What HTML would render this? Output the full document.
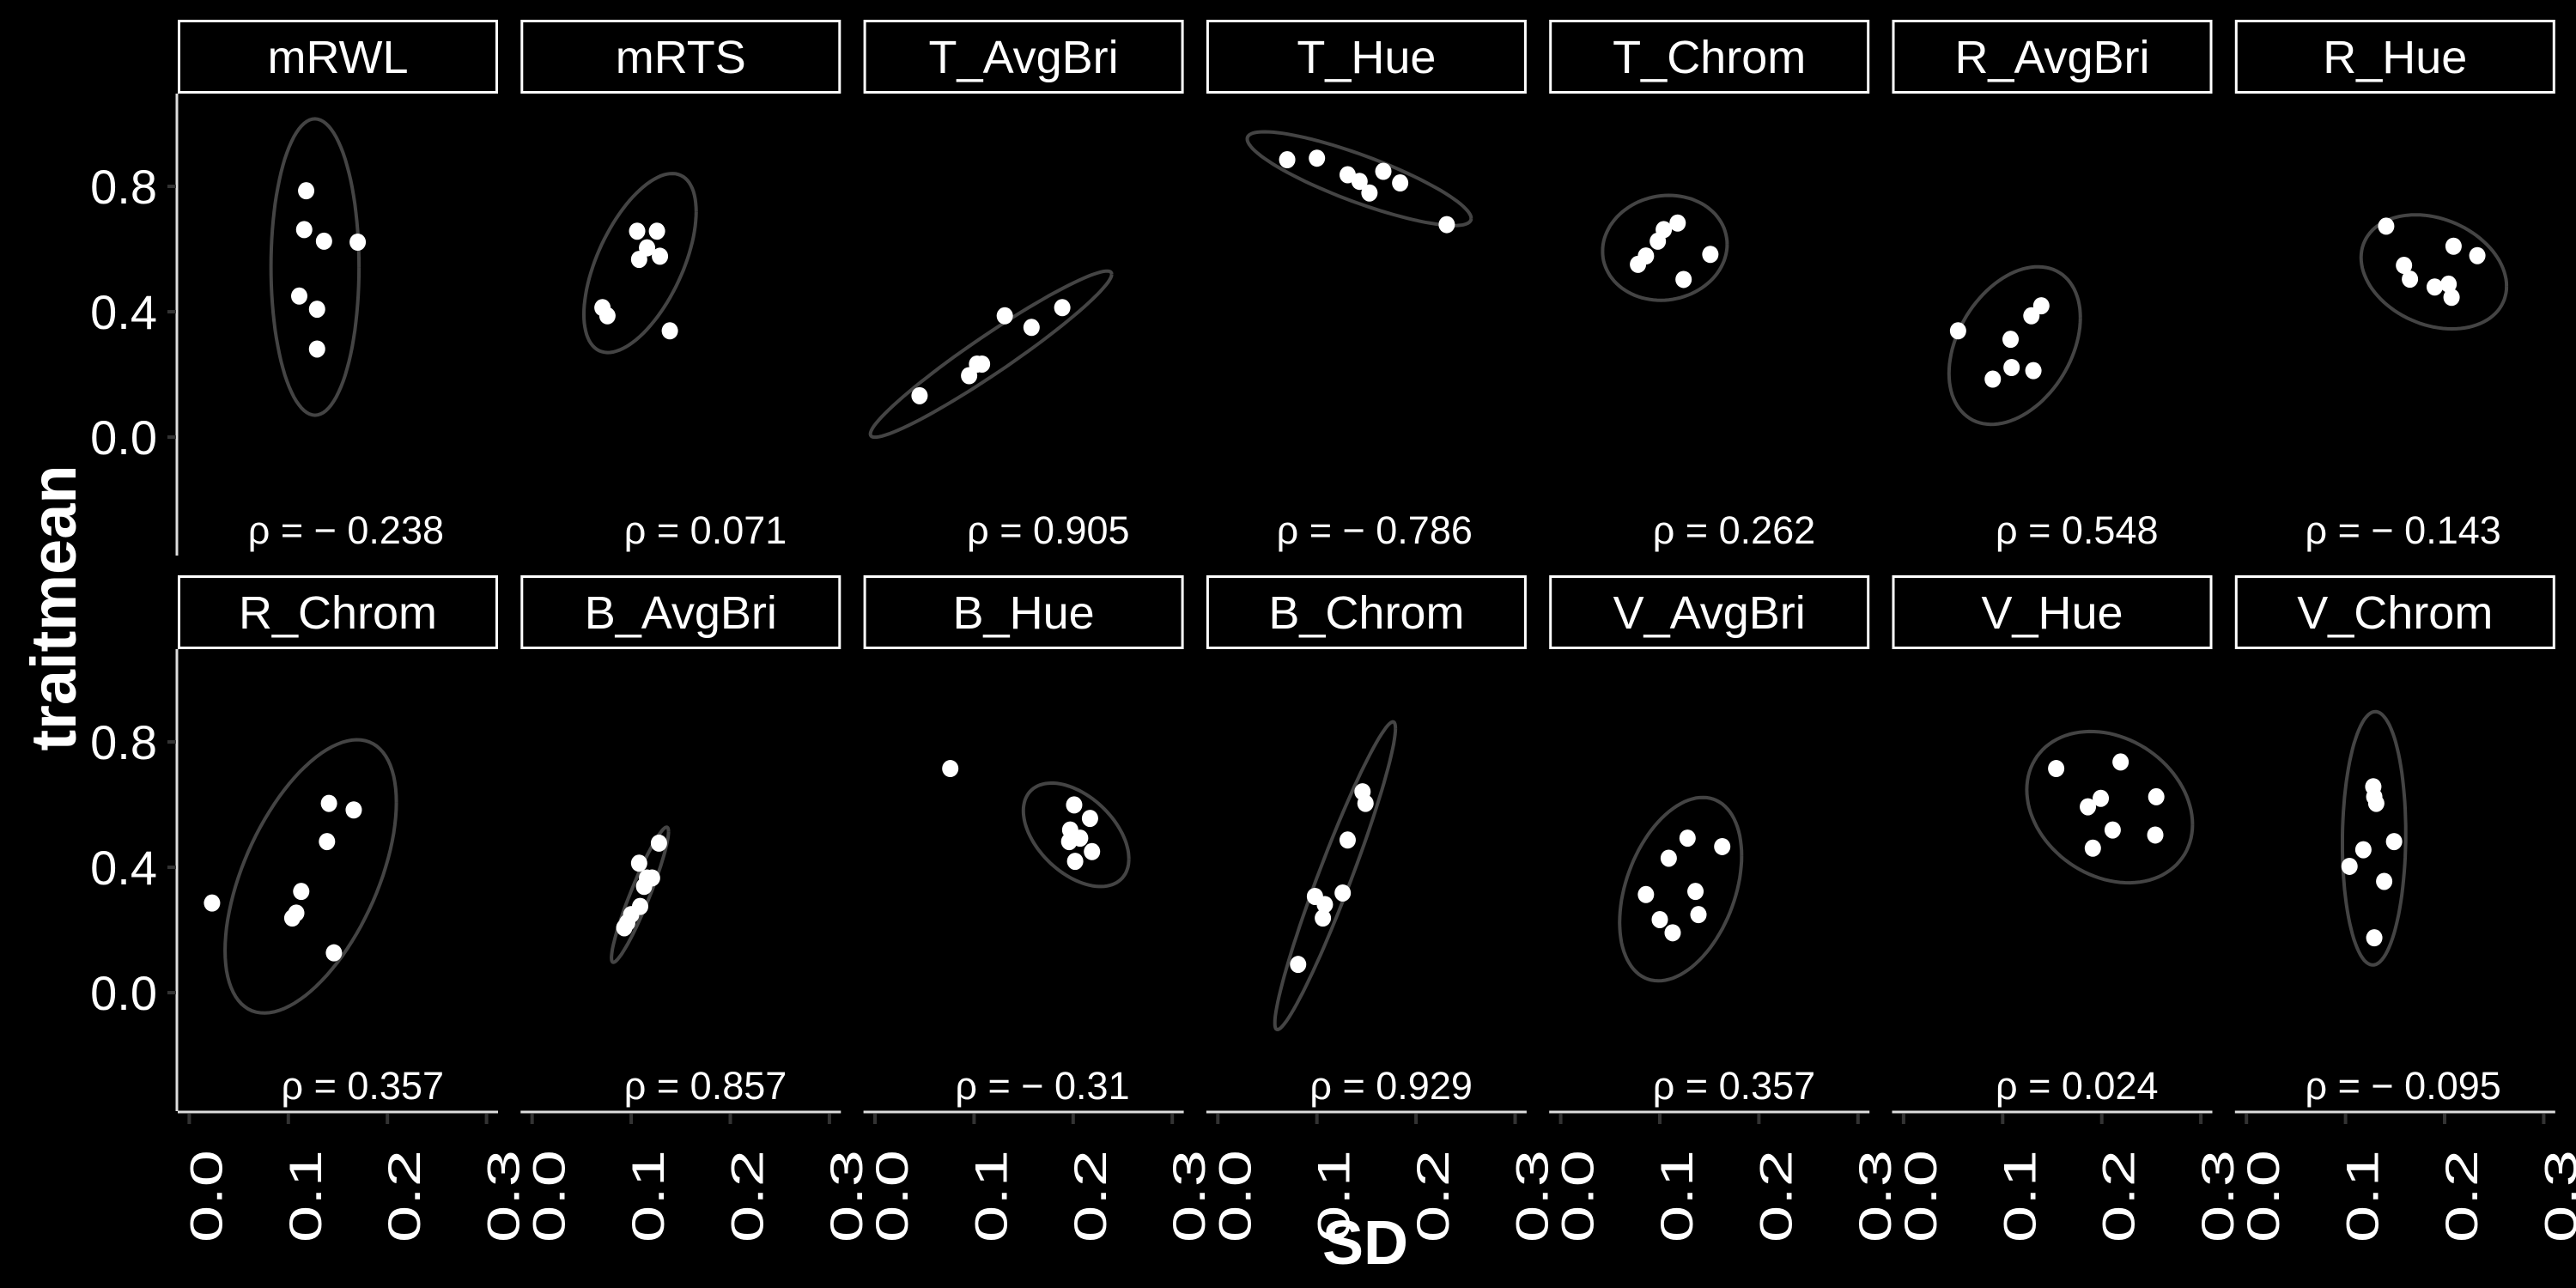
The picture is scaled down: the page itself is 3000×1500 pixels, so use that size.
<!DOCTYPE html>
<html><head><meta charset="utf-8">
<style>
html,body{margin:0;padding:0;background:#000;}
svg{display:block;font-family:"Liberation Sans Narrow","Liberation Sans",sans-serif;}
</style></head>
<body>
<svg id="chart" width="3000" height="1500" viewBox="0 0 3000 1500" xmlns="http://www.w3.org/2000/svg">
<rect width="3000" height="1500" fill="#000"/>
<text x="1590" y="1472" fill="#fff" font-size="72" font-weight="bold" text-anchor="middle" font-family="Liberation Sans, sans-serif">SD</text>
<text transform="translate(88,708) rotate(-90)" fill="#fff" font-size="74" font-weight="bold" text-anchor="middle" font-family="Liberation Sans, sans-serif">traitmean</text>
</svg>
<script>
const panelNames = ["mRWL","mRTS","T_AvgBri","T_Hue","T_Chrom","R_AvgBri","R_Hue","R_Chrom","B_AvgBri","B_Hue","B_Chrom","V_AvgBri","V_Hue","V_Chrom"];
const rhoLabels = ["ρ = − 0.238","ρ = 0.071","ρ = 0.905","ρ = − 0.786","ρ = 0.262","ρ = 0.548","ρ = − 0.143","ρ = 0.357","ρ = 0.857","ρ = − 0.31","ρ = 0.929","ρ = 0.357","ρ = 0.024","ρ = − 0.095"];
const xTicks = [0.0,0.1,0.2,0.3];
const xTickLabels = ["0.0","0.1","0.2","0.3"];
const yTicks = [0.0,0.4,0.8];
const yTickLabels = ["0.0","0.4","0.8"];
const sdValues = [
 [0.118,0.116,0.136,0.170,0.111,0.129,0.129],
 [0.071,0.076,0.106,0.126,0.116,0.108,0.129,0.139],
 [0.045,0.095,0.103,0.108,0.131,0.158,0.189],
 [0.070,0.100,0.131,0.143,0.153,0.167,0.184,0.231],
 [0.078,0.086,0.098,0.104,0.118,0.124,0.151],
 [0.055,0.090,0.108,0.109,0.131,0.129,0.139],
 [0.141,0.159,0.165,0.190,0.204,0.207,0.209,0.233],
 [0.023,0.113,0.108,0.104,0.141,0.139,0.166,0.146],
 [0.093,0.096,0.100,0.109,0.116,0.113,0.121,0.108,0.128],
 [0.076,0.201,0.197,0.207,0.219,0.202,0.196,0.217],
 [0.081,0.098,0.106,0.108,0.126,0.131,0.146,0.149],
 [0.086,0.109,0.128,0.100,0.113,0.136,0.139,0.163],
 [0.154,0.186,0.199,0.211,0.219,0.255,0.191,0.254],
 [0.104,0.118,0.128,0.129,0.131,0.149,0.139,0.129]
];
const meanValues = [
 [0.786,0.662,0.625,0.622,0.450,0.408,0.281],
 [0.413,0.387,0.657,0.657,0.604,0.567,0.577,0.339],
 [0.132,0.196,0.233,0.233,0.387,0.350,0.413],
 [0.885,0.890,0.837,0.816,0.779,0.848,0.811,0.678],
 [0.551,0.578,0.625,0.662,0.683,0.503,0.583],
 [0.339,0.185,0.312,0.222,0.212,0.387,0.419],
 [0.673,0.548,0.504,0.479,0.488,0.446,0.609,0.579],
 [0.286,0.323,0.254,0.238,0.604,0.482,0.583,0.127],
 [0.207,0.223,0.249,0.275,0.366,0.339,0.366,0.413,0.477],
 [0.715,0.599,0.519,0.493,0.450,0.419,0.482,0.556],
 [0.090,0.307,0.238,0.281,0.318,0.487,0.641,0.604],
 [0.313,0.429,0.493,0.233,0.191,0.323,0.249,0.466],
 [0.715,0.593,0.620,0.519,0.736,0.625,0.461,0.503],
 [0.403,0.456,0.657,0.625,0.604,0.482,0.355,0.175]
];
const qf95 = {5:6.944,6:5.786,7:5.143,8:4.737,9:4.459,10:4.256};

const NS="http://www.w3.org/2000/svg";
const svg=document.getElementById('chart');
const colLeft0=207, colPitch=399.3, panelW=373;
const panelTop=[109,756], panelH=538, stripH=86;
const yMax=1.096, yMin=-0.378, xMin=-0.0116, xMax=0.3116;
function mk(tag,attrs,parent){const e=document.createElementNS(NS,tag);for(const k in attrs)e.setAttribute(k,attrs[k]);(parent||svg).appendChild(e);return e;}
function xScale(p,v){const l=colLeft0+(p%7)*colPitch;return l+(v-xMin)/(xMax-xMin)*panelW;}
function yScale(p,v){const t=panelTop[Math.floor(p/7)];return t+(yMax-v)/(yMax-yMin)*panelH;}

function covTrob(xs,ys){
  const n=xs.length, nu=5;
  let w=new Array(n).fill(1), mx=0,my=0,sxx=0,sxy=0,syy=0;
  for(let it=0;it<100;it++){
    let sw=0;mx=0;my=0;
    for(let i=0;i<n;i++){sw+=w[i];mx+=w[i]*xs[i];my+=w[i]*ys[i];}
    mx/=sw;my/=sw;sxx=0;sxy=0;syy=0;
    for(let i=0;i<n;i++){const dx=xs[i]-mx,dy=ys[i]-my;sxx+=w[i]*dx*dx;sxy+=w[i]*dx*dy;syy+=w[i]*dy*dy;}
    sxx/=n;sxy/=n;syy/=n;
    const det=sxx*syy-sxy*sxy;
    const nw=[];
    for(let i=0;i<n;i++){const dx=xs[i]-mx,dy=ys[i]-my;const d2=(syy*dx*dx-2*sxy*dx*dy+sxx*dy*dy)/det;nw.push((nu+2)/(nu+d2));}
    w=nw;
  }
  return {mx,my,sxx,sxy,syy};
}

for(let p=0;p<panelNames.length;p++){
  const row=Math.floor(p/7), l=colLeft0+(p%7)*colPitch, top=panelTop[row];
  const g=mk('g',{});
  
  
  const strip=mk('rect',{x:l+1.5,y:top-stripH+1.5,width:panelW-3,height:stripH-3,fill:'#000',stroke:'#fff','stroke-width':3},g);
  
  
  const st=mk('text',{x:l+panelW/2,y:top-stripH/2+19,fill:'#fff','font-size':54,'text-anchor':'middle'},g);
  st.textContent=panelNames[p];
  
  
  const xs=sdValues[p], ys=meanValues[p], n=xs.length;
  const c=covTrob(xs,ys);
  const r=0.88*Math.sqrt(2*(qf95[n-1]||4.5));
  const a=Math.sqrt(c.sxx), b=c.sxy/a, d=Math.sqrt(Math.max(c.syy-b*b,0));
  let dstr='';
  for(let k=0;k<=100;k++){
    const t=2*Math.PI*k/100, u=Math.cos(t), v=Math.sin(t);
    const ex=c.mx+r*(a*u), ey=c.my+r*(b*u+d*v);
    dstr+=(k?'L':'M')+xScale(p,ex).toFixed(1)+','+yScale(p,ey).toFixed(1);
  }
  const el=mk('path',{d:dstr,fill:'none',stroke:'#444','stroke-width':4},g);
  
  
  for(let i=0;i<n;i++){
    const pt=mk('ellipse',{cx:xScale(p,xs[i]),cy:yScale(p,ys[i]),rx:9.5,ry:10,fill:'#fff'},g);
    
    
  }
  const rt=mk('text',{x:l+310,y:top+panelH-14,fill:'#fff','font-size':45,'text-anchor':'end'},g);
  rt.textContent=rhoLabels[p];
  
  
  if(p%7===0){
    const ax=mk('line',{x1:l-1,y1:top,x2:l-1,y2:top+panelH,stroke:'#ddd','stroke-width':3},g);
    
    
    yTicks.forEach((v,j)=>{
      const y=yScale(p,v);
      mk('line',{x1:l-12,y1:y,x2:l-2,y2:y,stroke:'#333','stroke-width':4},g);
      const tl=mk('text',{x:l-24,y:y+20,fill:'#fff','font-size':56,'text-anchor':'end','font-family':'Liberation Sans, sans-serif'},g);
      tl.textContent=yTickLabels[j];
      
      
    });
  }
  if(row===1){
    const by=top+panelH+1;
    const ax=mk('line',{x1:l,y1:by,x2:l+panelW,y2:by,stroke:'#ddd','stroke-width':3},g);
    
    
    xTicks.forEach((v,j)=>{
      const x=xScale(p,v);
      mk('line',{x1:x,y1:by+2,x2:x,y2:by+14,stroke:'#333','stroke-width':4},g);
      const tl=mk('text',{transform:'translate('+(x+38)+','+(by+44)+') rotate(-90)',fill:'#fff','font-size':53,'text-anchor':'end','textLength':108,'lengthAdjust':'spacingAndGlyphs','font-family':'Liberation Sans, sans-serif'},g);
      tl.textContent=xTickLabels[j];
      
      
    });
  }
}
</script>
</body></html>
